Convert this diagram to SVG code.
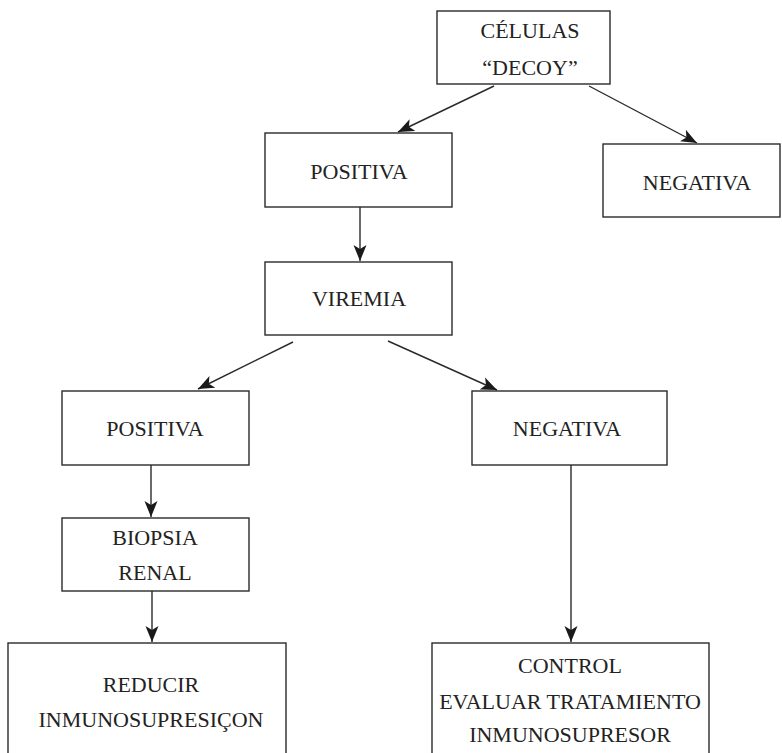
<svg xmlns="http://www.w3.org/2000/svg" width="782" height="753" viewBox="0 0 782 753">
<style>
.box{fill:#fff;stroke:#2a2a2a;stroke-width:1.4}
.t{font-family:"Liberation Serif","Times New Roman",serif;font-size:22px;fill:#222;text-anchor:middle}
.c{stroke:#2a2a2a;stroke-width:1.4;fill:none;marker-end:url(#ah)}
</style>
<defs>
<marker id="ah" markerUnits="userSpaceOnUse" markerWidth="17" markerHeight="14" refX="16" refY="7" orient="auto">
<path d="M0,0.5 L16,7 L0,13.5 L4,7 z" fill="#1a1a1a"/>
</marker>
</defs>
<rect width="782" height="753" fill="#fff"/>
<g id="connectors">
<line class="c" x1="494" y1="86" x2="398" y2="132"/>
<line class="c" x1="589" y1="86" x2="697" y2="143"/>
<line class="c" x1="360" y1="207" x2="360" y2="261"/>
<line class="c" x1="293" y1="342" x2="198" y2="389"/>
<line class="c" x1="388" y1="341" x2="497" y2="390"/>
<line class="c" x1="151" y1="465" x2="151" y2="517"/>
<line class="c" x1="152" y1="591" x2="152" y2="642"/>
<line class="c" x1="571" y1="465" x2="571" y2="642"/>
</g>
<g id="celulas">
<rect class="box" x="437" y="11" width="173" height="73"/>
<text class="t" x="530" y="38">CÉLULAS</text>
<text class="t" x="530" y="75">“DECOY”</text>
</g>
<g id="positiva1">
<rect class="box" x="265" y="133" width="187" height="74"/>
<text class="t" x="359" y="179">POSITIVA</text>
</g>
<g id="negativa1">
<rect class="box" x="603" y="144" width="177" height="73"/>
<text class="t" x="697" y="190">NEGATIVA</text>
</g>
<g id="viremia">
<rect class="box" x="265" y="262" width="187" height="73"/>
<text class="t" x="359" y="306">VIREMIA</text>
</g>
<g id="positiva2">
<rect class="box" x="62" y="391" width="187" height="74"/>
<text class="t" x="155" y="436">POSITIVA</text>
</g>
<g id="negativa2">
<rect class="box" x="472" y="391" width="195" height="74"/>
<text class="t" x="567" y="436">NEGATIVA</text>
</g>
<g id="biopsia">
<rect class="box" x="62" y="518" width="187" height="73"/>
<text class="t" x="155" y="545">BIOPSIA</text>
<text class="t" x="155" y="580">RENAL</text>
</g>
<g id="reducir">
<rect class="box" x="8" y="643" width="278" height="120"/>
<text class="t" x="151" y="692">REDUCIR</text>
<text class="t" x="151" y="727">INMUNOSUPRESIÇON</text>
</g>
<g id="control">
<rect class="box" x="432" y="643" width="277" height="120"/>
<text class="t" x="570" y="673">CONTROL</text>
<text class="t" x="570" y="709">EVALUAR TRATAMIENTO</text>
<text class="t" x="570" y="742">INMUNOSUPRESOR</text>
</g>
</svg>
